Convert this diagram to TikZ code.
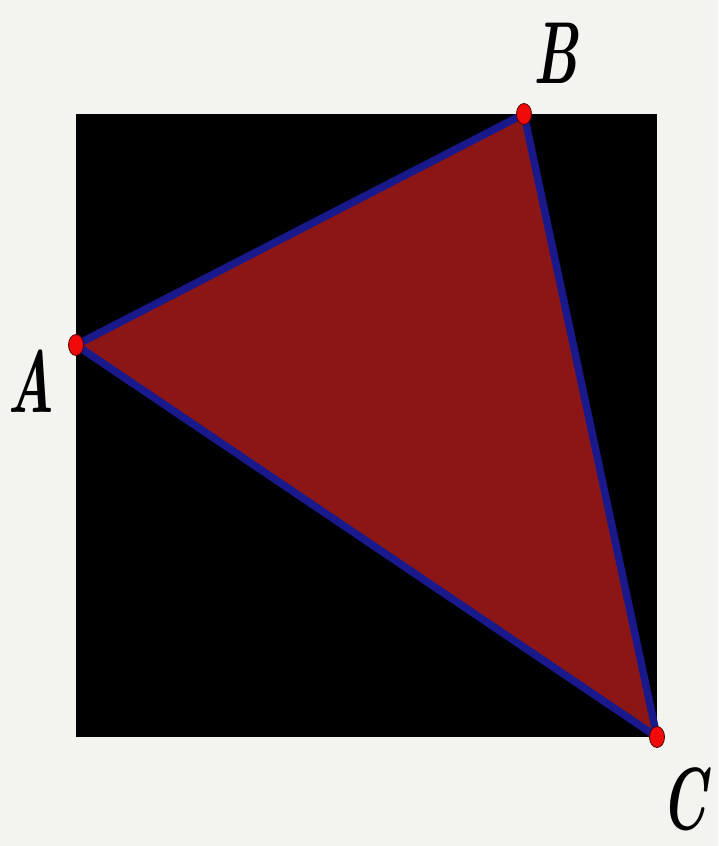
\documentclass[tikz,border=0pt]{standalone}
\definecolor{bgc}{RGB}{243,243,240}
\definecolor{trifill}{RGB}{140,22,22}
\definecolor{edgec}{RGB}{25,25,140}
\definecolor{ptred}{RGB}{240,10,10}
\usetikzlibrary{shapes.geometric}
\newcommand{\narrowlbl}[1]{\scalebox{0.62}[1]{#1}}
\tikzset{
  lbl/.style={inner sep=0pt, font=\fontsize{88}{88}\selectfont\bfseries\itshape},
  pt/.style={ellipse, draw=black!70!red, line width=0.8pt, fill=ptred, minimum width=15pt, minimum height=21pt, inner sep=0pt}
}
\begin{document}
\begin{tikzpicture}[x=1pt,y=-1pt]
\fill[bgc] (0,0) rectangle (718,846);
\useasboundingbox (0,0) rectangle (718,846);
\fill[black] (76,114) rectangle (657,737);
\coordinate (a) at (76,345);
\coordinate (b) at (524,114);
\coordinate (c) at (657,737);
\filldraw[fill=trifill, draw=edgec, line width=7.5pt, line join=round] (a) -- (b) -- (c) -- cycle;
\node[pt] (pa) at (a) {};
\node[pt] (pb) at (b) {};
\node[pt] (pc) at (c) {};
\node[lbl, anchor=base] (la) at (31,412) {\narrowlbl{A}};
\node[lbl, anchor=base] (lb) at (556,83) {\narrowlbl{B}};
\node[lbl, anchor=base] (lc) at (684,829) {\narrowlbl{C}};
\end{tikzpicture}
\end{document}
